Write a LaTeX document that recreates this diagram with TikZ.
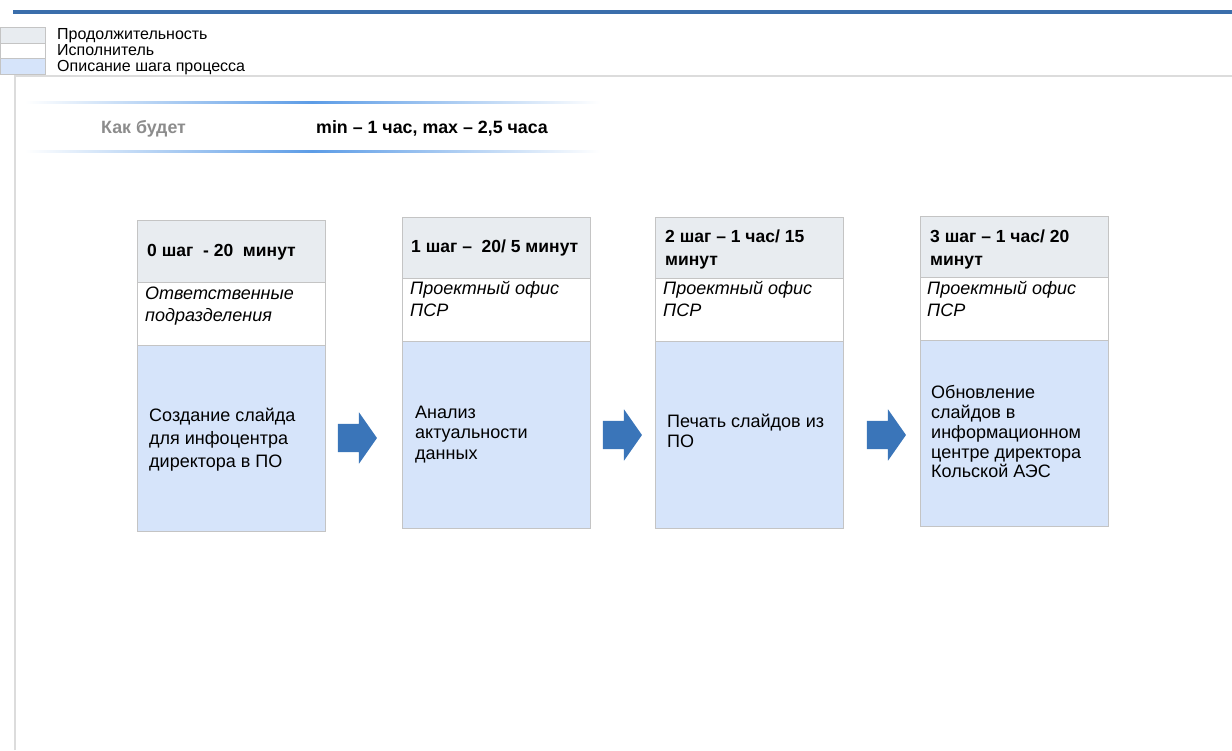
\documentclass[tikz,border=0pt]{standalone}
\usepackage{fontspec}
\setmainfont{Liberation Sans}
\usetikzlibrary{shapes.arrows}
\definecolor{topblue}{HTML}{3A6EAB}
\definecolor{bandblue}{HTML}{5C9CE6}
\definecolor{framegray}{HTML}{DCDCDC}
\definecolor{boxline}{HTML}{C4C4C4}
\definecolor{hdrfill}{HTML}{E8ECF0}
\definecolor{descfill}{HTML}{D6E4FA}
\definecolor{arrowblue}{HTML}{3A75B9}
\definecolor{textgray}{HTML}{8C8C8C}
\tikzset{
  cell/.style={draw=boxline, line width=1pt, anchor=north west, minimum width=188pt, inner sep=0pt},
  hdrcell/.style={cell, fill=hdrfill},
  perfcell/.style={cell, fill=white},
  desccell/.style={cell, fill=descfill},
  swatch/.style={draw=boxline, line width=1pt, anchor=north west, minimum width=45pt, minimum height=15.5pt, inner sep=0pt},
  legtext/.style={anchor=base west, inner sep=0pt, font=\fontsize{16}{16}\selectfont},
  hdrtext/.style={anchor=base west, inner sep=0pt, font=\fontsize{17.5}{23}\selectfont\bfseries},
  perftext/.style={anchor=base west, inner sep=0pt, font=\fontsize{18}{22}\selectfont\itshape},
  desctext/.style={anchor=base west, inner sep=0pt, font=\fontsize{18}{20.5}\selectfont},
  bandtext/.style={anchor=base west, inner sep=0pt, font=\fontsize{17.8}{20}\selectfont\bfseries},
  blockarrow/.style={single arrow, fill=arrowblue, draw=none, inner sep=0pt, single arrow head extend=11.5pt, minimum height=39pt, single arrow tip angle=110}
}
\begin{document}
\begin{tikzpicture}[x=1pt,y=-1pt]
\useasboundingbox (0,0) rectangle (1232,750);
% top blue rule
\fill[topblue] (13,10) rectangle (1232,13.5);
% legend
\node[swatch, fill=hdrfill] (sw1) at (0,27) {};
\node[swatch, fill=white] (sw2) at (0,42.5) {};
\node[swatch, fill=descfill] (sw3) at (0,58) {};
\node[legtext] (lg1) at (57,39.5) {Продолжительность};
\node[legtext] (lg2) at (57,55.5) {Исполнитель};
\node[legtext] (lg3) at (57,71.5) {Описание шага процесса};
% frame
\draw[framegray, line width=2pt] (15,750) -- (15,76) -- (1232,76);
% band
\shade[left color=white, right color=bandblue] (25,101) rectangle (312,103);
\shade[left color=bandblue, right color=white] (312,101) rectangle (600,103);
\shade[left color=white, right color=bandblue] (25,150) rectangle (312,152);
\shade[left color=bandblue, right color=white] (312,150) rectangle (600,152);
\node[bandtext, text=textgray] (kak) at (101,133) {Как будет};
\node[bandtext] (minmax) at (316,133) {min – 1 час, max – 2,5 часа};
% box 0
\node[hdrcell, minimum height=62pt] (h0) at (137,220) {};
\node[perfcell, minimum height=63pt] (p0) at (137,282) {};
\node[desccell, minimum height=186pt] (d0) at (137,345) {};
\node[hdrtext] (h0t) at (147,256) {0 шаг \ - 20 \ минут};
\node[perftext] (p0a) at (145,299) {Ответственные};
\node[perftext] (p0b) at (145,321) {подразделения};
\node[desctext] (d0a) at (149,421) {Создание слайда};
\node[desctext] (d0b) at (149,444) {для инфоцентра};
\node[desctext] (d0c) at (149,467) {директора в ПО};
% box 1
\node[hdrcell, minimum height=61pt] (h1) at (402,217) {};
\node[perfcell, minimum height=63pt] (p1) at (402,278) {};
\node[desccell, minimum height=187pt] (d1) at (402,341) {};
\node[hdrtext] (h1t) at (411,252) {1 шаг – \ 20/ 5 минут};
\node[perftext] (p1a) at (410,294) {Проектный офис};
\node[perftext] (p1b) at (410,316) {ПСР};
\node[desctext] (d1a) at (415,418) {Анализ};
\node[desctext] (d1b) at (415,438.5) {актуальности};
\node[desctext] (d1c) at (415,459) {данных};
% box 2
\node[hdrcell, minimum height=61pt] (h2) at (655,217) {};
\node[perfcell, minimum height=63pt] (p2) at (655,278) {};
\node[desccell, minimum height=187pt] (d2) at (655,341) {};
\node[hdrtext] (h2a) at (665,242) {2 шаг – 1 час/ 15};
\node[hdrtext] (h2b) at (665,265) {минут};
\node[perftext] (p2a) at (663,294) {Проектный офис};
\node[perftext] (p2b) at (663,316) {ПСР};
\node[desctext] (d2a) at (667,427) {Печать слайдов из};
\node[desctext] (d2b) at (667,447) {ПО};
% box 3
\node[hdrcell, minimum height=61pt] (h3) at (920,216) {};
\node[perfcell, minimum height=63pt] (p3) at (920,277) {};
\node[desccell, minimum height=186pt] (d3) at (920,340) {};
\node[hdrtext] (h3a) at (930,242) {3 шаг – 1 час/ 20};
\node[hdrtext] (h3b) at (930,265) {минут};
\node[perftext] (p3a) at (927,294) {Проектный офис};
\node[perftext] (p3b) at (927,316) {ПСР};
\node[desctext] (d3a) at (931,398) {Обновление};
\node[desctext] (d3b) at (931,418) {слайдов в};
\node[desctext] (d3c) at (931,438) {информационном};
\node[desctext] (d3d) at (931,458) {центре директора};
\node[desctext] (d3e) at (931,477.5) {Кольской АЭС};
% block arrows
\node[blockarrow] (a1) at (352.5,438) {\rule{0pt}{28pt}};
\node[blockarrow] (a2) at (617.5,435) {\rule{0pt}{28pt}};
\node[blockarrow] (a3) at (881.5,435) {\rule{0pt}{28pt}};
\end{tikzpicture}
\end{document}
